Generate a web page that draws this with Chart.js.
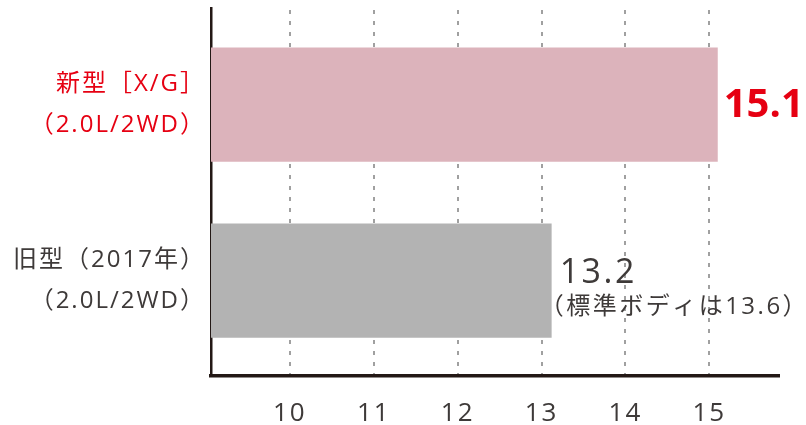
<!DOCTYPE html>
<html lang="ja">
<head>
<meta charset="utf-8">
<script src="https://cdn.jsdelivr.net/npm/chart.js@4/dist/chart.umd.min.js"></script>
<style>
	html, body { margin: 0; padding: 0; background: #fff; }
	#wrap { width: 806px; height: 425px; }
</style>
</head>
<body>
<div id="wrap"><canvas id="chart" width="806" height="425"></canvas></div>
<script>
// data
const categories = [['新型［X/G］', '（2.0L/2WD）'], ['旧型（2017年）', '（2.0L/2WD）']];
const values = [15.1, 13.12];
const valueLabels = ['15.1', '13.2'];
const noteLabels = ['', '（標準ボディは13.6）'];
const xTicks = [10, 11, 12, 13, 14, 15];
const barColors = ['#dcb3bb', '#b3b3b3'];
const labelColors = ['#e60012', '#3e3a39'];

const FONT = '"Open Sans", "Noto Sans CJK JP", sans-serif';
const TEXT = '#3e3a39';

// the reference text is tracked out a little
const tracking = {
	id: 'tracking',
	beforeLayout(chart) { chart.ctx.letterSpacing = '2px'; },
	beforeDraw(chart) { chart.ctx.letterSpacing = '2px'; }
};

// numbers + notes printed at the end of each bar
const valueLabelPlugin = {
	id: 'valueLabels',
	afterDatasetsDraw(chart) {
		const ctx = chart.ctx;
		const bars = chart.getDatasetMeta(0).data;
		ctx.save();
		ctx.textAlign = 'left';
		ctx.textBaseline = 'alphabetic';
		bars.forEach((bar, i) => {
			ctx.fillStyle = labelColors[i];
			if (i === 0) {
				ctx.letterSpacing = '0px';
				ctx.font = 'bold 40px ' + FONT;
				ctx.fillText(valueLabels[i], bar.x + 6, bar.y + 12);
			} else {
				ctx.letterSpacing = '2.5px';
				ctx.font = '34px ' + FONT;
				ctx.fillText(valueLabels[i], bar.x + 8, bar.y + 2);
				ctx.letterSpacing = '2.5px';
				ctx.font = '24px ' + FONT;
				ctx.fillText(noteLabels[i], bar.x - 12, bar.y + 33);
			}
		});
		ctx.restore();
	}
};

new Chart(document.getElementById('chart'), {
	type: 'bar',
	data: {
		datasets: [{
			data: values.map((v, i) => ({ x: v, y: i })),
			backgroundColor: barColors,
			borderWidth: 0,
			barPercentage: 0.65,
			categoryPercentage: 1
		}]
	},
	options: {
		indexAxis: 'y',
		responsive: false,
		animation: false,
		layout: { padding: { top: 8, right: 27, left: 0, bottom: 0 } },
		plugins: {
			legend: { display: false },
			tooltip: { enabled: false }
		},
		scales: {
			x: {
				type: 'linear',
				min: 9.06,
				max: 15.83,
				afterBuildTicks: s => { s.ticks = xTicks.map(v => ({ value: v })); },
				afterFit: s => { s.height = 49.5; s.paddingLeft = 0; s.paddingRight = 0; },
				grid: {
					color: '#a0a0a0',
					lineWidth: 2,
					drawTicks: false
				},
				border: {
					color: '#231815',
					width: 3.5,
					dash: [4, 7],
					dashOffset: -2
				},
				ticks: {
					color: TEXT,
					padding: 22,
					font: { family: FONT, size: 26 }
				}
			},
			y: {
				type: 'linear',
				reverse: true,
				offset: false,
				min: -0.55,
				max: 1.54,
				afterBuildTicks: s => { s.ticks = categories.map((c, i) => ({ value: i })); },
				afterFit: s => { s.width = 211; s.paddingTop = 0; s.paddingBottom = 0; },
				grid: { display: false, drawTicks: false, offset: false },
				border: { color: '#231815', width: 2.5 },
				ticks: {
					padding: 5,
					font: { family: FONT, size: 24, lineHeight: 1.68 },
					color: c => labelColors[c.index],
					callback: v => categories[v] || ''
				}
			}
		}
	},
	plugins: [tracking, valueLabelPlugin]
});
</script>
</body>
</html>
